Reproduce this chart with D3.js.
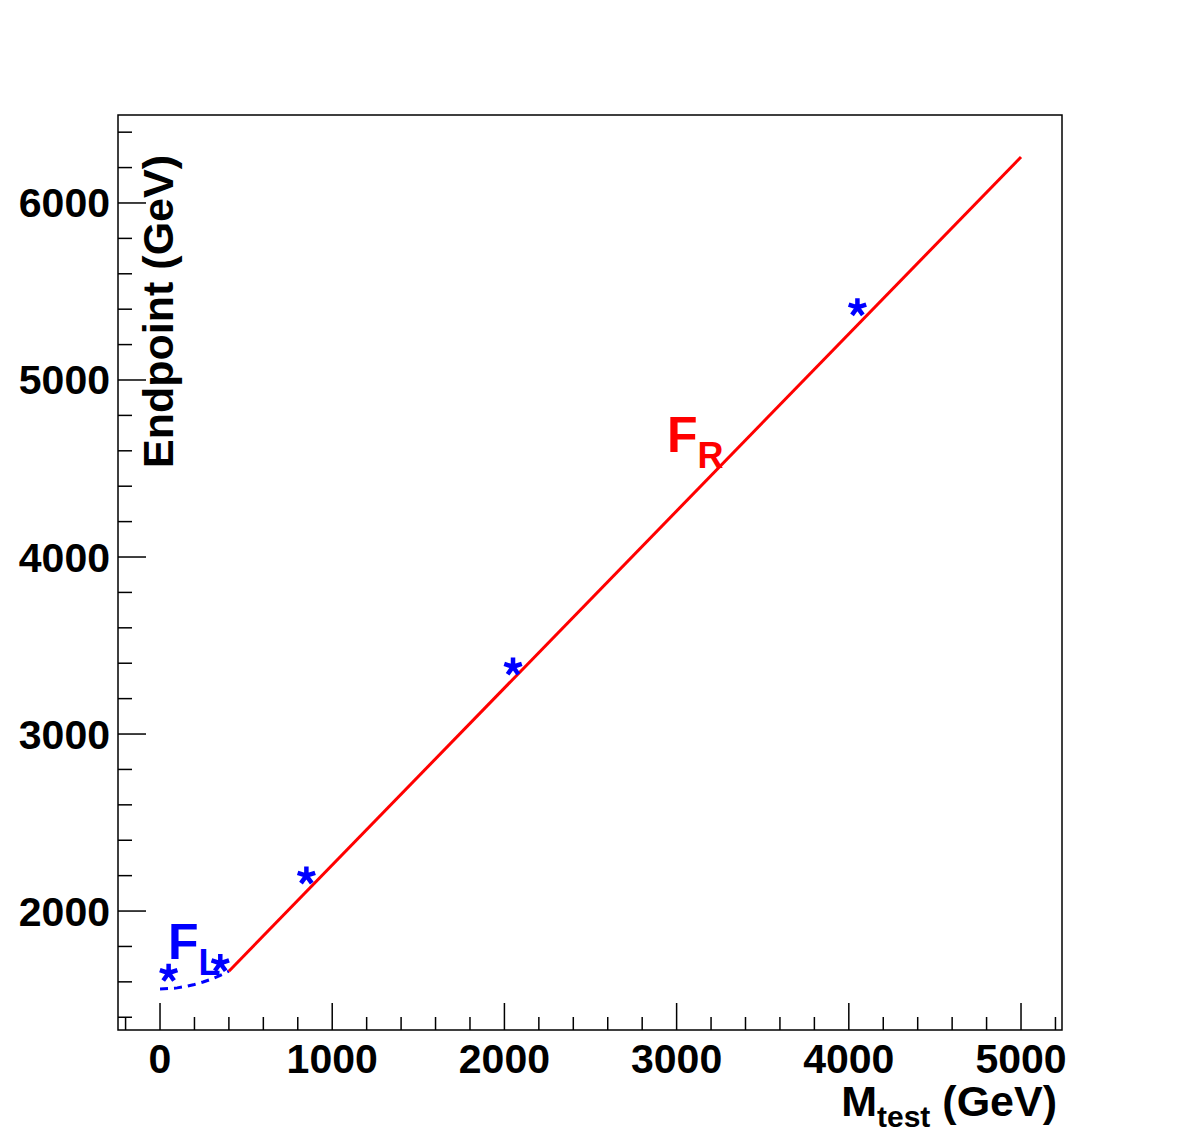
<html>
<head>
    <title>Endpoint vs Mtest</title>
    <script src="https://cdn.jsdelivr.net/npm/d3@7"></script>
    <style>
        body { margin: 0; background: #fff; }
        text { font-family: "Liberation Sans", Arial, sans-serif; font-weight: bold; }
    </style>
</head>
<body>
<script>
// measured points (stars)
var mTest = [50, 350, 850, 2050, 4050];
var endpoint = [1650, 1705, 2200, 3380, 5410];

// F_R straight fit
var fitRX = [400, 5000];
var fitRY = [1660, 6260];

// F_L curve (dashed)
var fitLX = [0, 50, 100, 150, 200, 250, 300, 350, 400];
var fitLY = [1560, 1562, 1566, 1574, 1585, 1599, 1616, 1637, 1660];

var xMajor = [0, 1000, 2000, 3000, 4000, 5000];
var yMajor = [2000, 3000, 4000, 5000, 6000];

var width = 1182, height = 1146;
// frame edges (note: "top" is reserved on window, so use other names)
var frameL = 118, frameR = 1062, frameT = 115, frameB = 1030;

var svg = d3.select("body").append("svg")
    .attr("width", width)
    .attr("height", height);

var x = d3.scaleLinear().domain([-244, 5238]).range([frameL, frameR]);
var y = d3.scaleLinear().domain([1328, 6497]).range([frameB, frameT]);

// minor ticks every 200
var xMinor = d3.range(-200, 5238, 200).filter(function(v){ return v % 1000 != 0; });
var yMinor = d3.range(1400, 6497, 200).filter(function(v){ return v % 1000 != 0; });

var ax = svg.append("g");

ax.selectAll(".xmaj").data(xMajor).enter().append("line")
    .attr("x1", d => x(d)).attr("x2", d => x(d))
    .attr("y1", frameB).attr("y2", frameB - 27)
    .attr("stroke", "#000").attr("stroke-width", 1.5);
ax.selectAll(".xmin").data(xMinor).enter().append("line")
    .attr("x1", d => x(d)).attr("x2", d => x(d))
    .attr("y1", frameB).attr("y2", frameB - 13)
    .attr("stroke", "#000").attr("stroke-width", 1.5);
ax.selectAll(".ymaj").data(yMajor).enter().append("line")
    .attr("x1", frameL).attr("x2", frameL + 28)
    .attr("y1", d => y(d)).attr("y2", d => y(d))
    .attr("stroke", "#000").attr("stroke-width", 1.5);
ax.selectAll(".ymin").data(yMinor).enter().append("line")
    .attr("x1", frameL).attr("x2", frameL + 14)
    .attr("y1", d => y(d)).attr("y2", d => y(d))
    .attr("stroke", "#000").attr("stroke-width", 1.5);

svg.append("rect")
    .attr("x", frameL).attr("y", frameT)
    .attr("width", frameR - frameL).attr("height", frameB - frameT)
    .attr("fill", "none").attr("stroke", "#000").attr("stroke-width", 1.5);

// tick labels
svg.selectAll(".xl").data(xMajor).enter().append("text")
    .attr("x", d => x(d)).attr("y", 1073)
    .attr("text-anchor", "middle").attr("font-size", 41)
    .text(d => d);
svg.selectAll(".yl").data(yMajor).enter().append("text")
    .attr("x", 110).attr("y", d => y(d) + 14.5)
    .attr("text-anchor", "end").attr("font-size", 41)
    .text(d => d);

// axis titles
var xt = svg.append("text")
    .attr("x", 1057).attr("y", 1116)
    .attr("text-anchor", "end").attr("font-size", 43);
xt.append("tspan").text("M");
xt.append("tspan").attr("font-size", 30).attr("dy", 11).text("test");
xt.append("tspan").attr("dy", -11).text(" (GeV)");

svg.append("text")
    .attr("transform", "translate(173,155) rotate(-90)")
    .attr("text-anchor", "end").attr("font-size", 43)
    .text("Endpoint (GeV)");

// fits
var line = d3.line().x(d => x(d[0])).y(d => y(d[1]));

svg.append("path")
    .datum(d3.zip(fitLX, fitLY))
    .attr("d", line)
    .attr("fill", "none").attr("stroke", "#0000ff")
    .attr("stroke-width", 3).attr("stroke-dasharray", "8,6");

svg.append("path")
    .datum(d3.zip(fitRX, fitRY))
    .attr("d", line)
    .attr("fill", "none").attr("stroke", "#ff0000")
    .attr("stroke-width", 3);

// star markers (5-armed asterisk)
var star = {
    draw: function(ctx, size) {
        var r = Math.sqrt(size);
        for (var k = 0; k < 5; k++) {
            var a = -Math.PI / 2 + k * 2 * Math.PI / 5;
            ctx.moveTo(0, 0);
            ctx.lineTo(r * Math.cos(a), r * Math.sin(a));
        }
    }
};
svg.selectAll(".pt").data(d3.zip(mTest, endpoint)).enter().append("path")
    .attr("transform", d => "translate(" + x(d[0]) + "," + y(d[1]) + ")")
    .attr("d", d3.symbol().type(star).size(85))
    .attr("fill", "none").attr("stroke", "#0000ff")
    .attr("stroke-width", 4.5).attr("stroke-linecap", "butt");

// labels
var fr = svg.append("text").attr("x", 667).attr("y", 452)
    .attr("font-size", 50).attr("fill", "#ff0000");
fr.append("tspan").text("F");
fr.append("tspan").attr("font-size", 36).attr("dy", 16).text("R");

var fl = svg.append("text").attr("x", 168).attr("y", 959)
    .attr("font-size", 50).attr("fill", "#0000ff");
fl.append("tspan").text("F");
fl.append("tspan").attr("font-size", 36).attr("dy", 16).text("L");
</script>
</body>
</html>
